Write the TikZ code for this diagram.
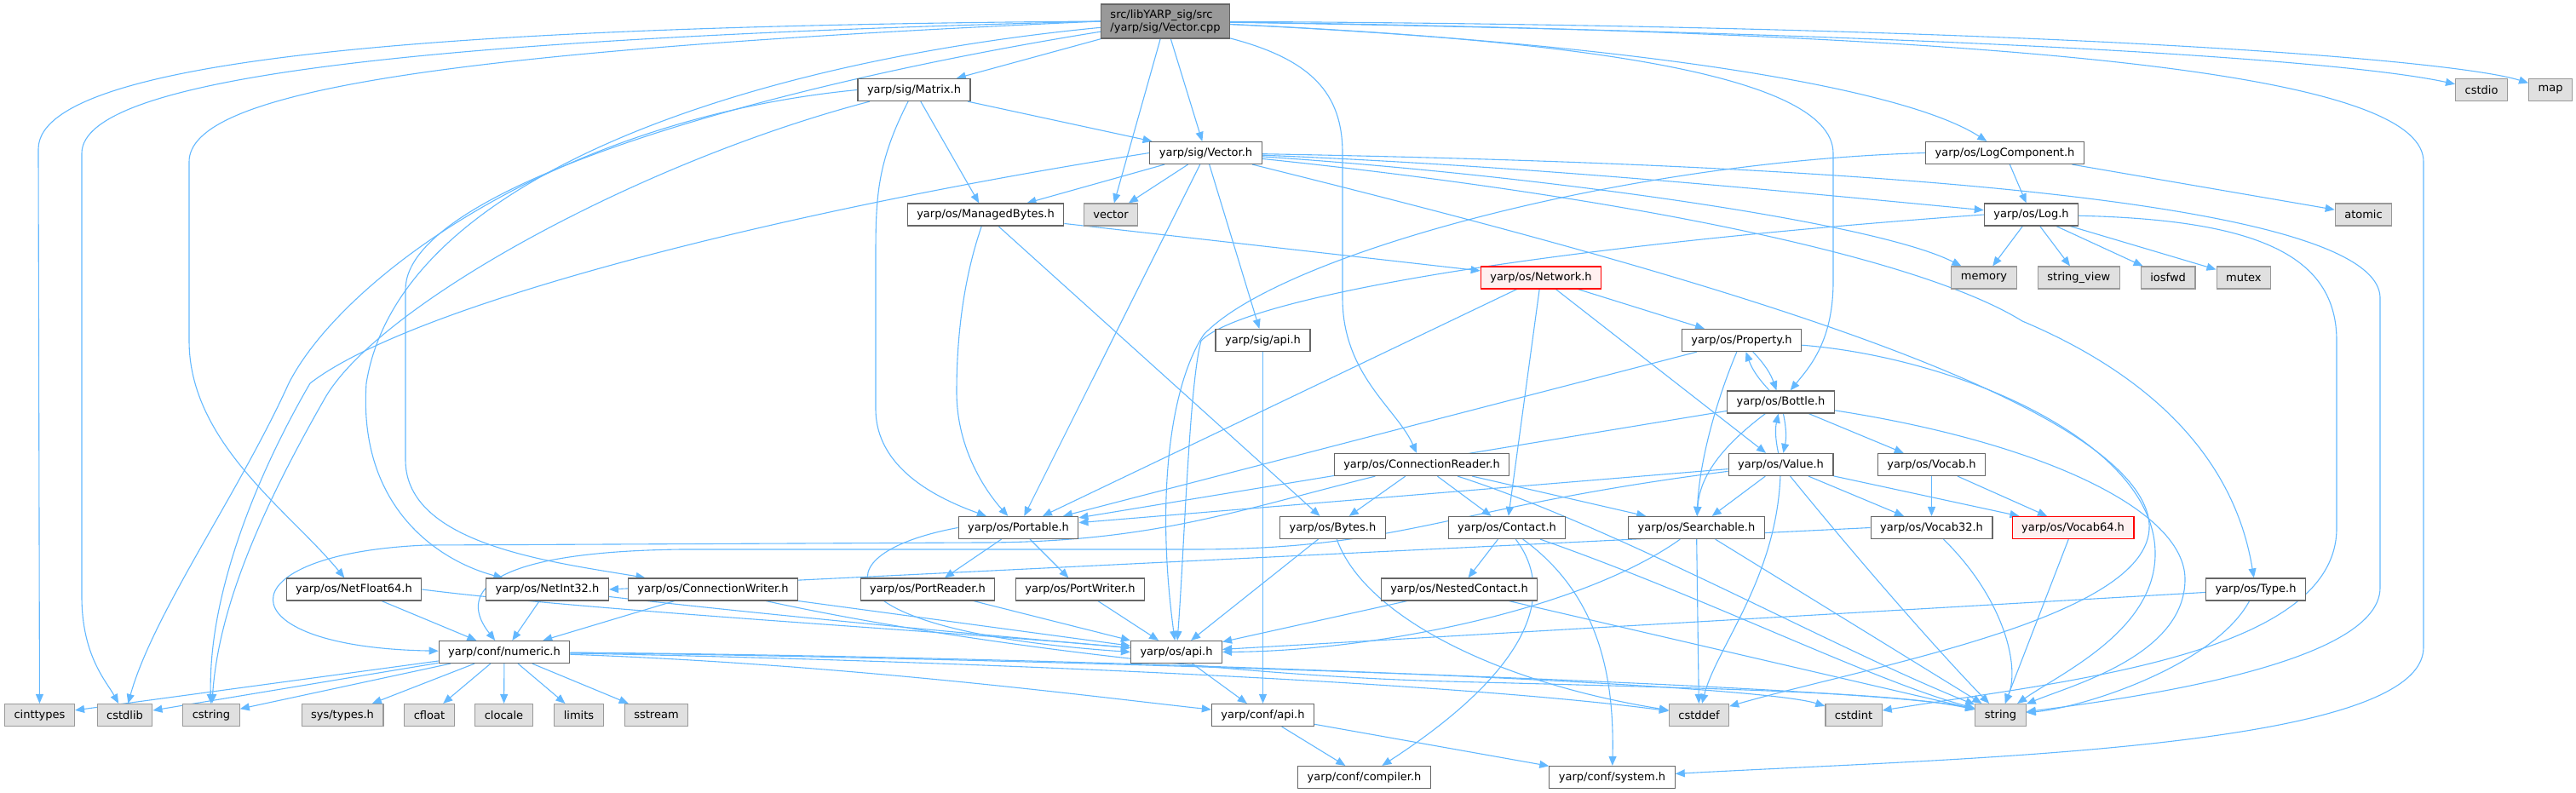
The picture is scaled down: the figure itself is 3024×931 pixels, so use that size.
\documentclass[tikz,border=0pt]{standalone}
\usepackage{fontspec}
\setmainfont{DejaVu Sans}
\usetikzlibrary{positioning, arrows.meta}

\definecolor{edgeblue}{HTML}{63B8FF}
\definecolor{nodeborder}{HTML}{666666}
\definecolor{sysborder}{HTML}{999999}
\definecolor{sysfill}{HTML}{E0E0E0}
\definecolor{rootfill}{HTML}{999999}
\definecolor{truncfill}{HTML}{FFF0F0}

\pgfdeclarelayer{background}
\pgfsetlayers{background,main}

\tikzset{
    file/.style={draw=nodeborder, fill=white, line width=0.6pt, rectangle, inner xsep=5.5pt, inner ysep=0pt, minimum height=13pt, font=\fontsize{6.5}{7.5}\selectfont},
    sysfile/.style={file, draw=sysborder, fill=sysfill},
    rootfile/.style={file, fill=rootfill, align=left, minimum height=20pt},
    truncfile/.style={file, draw=red, fill=truncfill},
    dep/.style={draw=edgeblue, line width=0.55pt, -{Triangle[length=5.5pt, width=4.5pt]}}
}

\begin{document}
\begin{tikzpicture}[x=0.5pt, y=-0.5pt]
    \useasboundingbox (0,0) rectangle (3024,931);

    % rows from top to bottom
    \node (root) [rootfile] at (1368, 25) {src/libYARP\_sig/src\\/yarp/sig/Vector.cpp};

    \node (matrix) [file] at (1073, 105.5) {yarp/sig/Matrix.h};
    \node (cstdio) [sysfile] at (2913, 105.5) {cstdio};
    \node (map) [sysfile, right=12pt of cstdio] {map};

    \node (vectorh) [file] at (1415.5, 179.5) {yarp/sig/Vector.h};
    \node (logcomp) [file] at (2353.5, 179.5) {yarp/os/LogComponent.h};

    \node (managed) [file] at (1157, 252) {yarp/os/ManagedBytes.h};
    \node (vector) [sysfile] at (1304, 252) {vector};
    \node (log) [file] at (2384.5, 252) {yarp/os/Log.h};
    \node (atomic) [sysfile] at (2774.5, 252) {atomic};

    \node (network) [truncfile] at (1809, 326) {yarp/os/Network.h};
    \node (memory) [sysfile] at (2329, 326) {memory};
    \node (strview) [sysfile, right=12pt of memory] {string\_view};
    \node (iosfwd) [sysfile, right=12pt of strview] {iosfwd};
    \node (mutex) [sysfile, right=12pt of iosfwd] {mutex};

    \node (sigapi) [file] at (1482.5, 399.5) {yarp/sig/api.h};
    \node (property) [file] at (2044.5, 399.5) {yarp/os/Property.h};

    \node (bottle) [file] at (2090.5, 472) {yarp/os/Bottle.h};

    \node (connreader) [file] at (1669, 545.5) {yarp/os/ConnectionReader.h};
    \node (value) [file] at (2090.5, 545.5) {yarp/os/Value.h};
    \node (vocab) [file] at (2267.5, 545.5) {yarp/os/Vocab.h};

    \node (portable) [file] at (1195.5, 619.5) {yarp/os/Portable.h};
    \node (bytes) [file] at (1564.5, 619.5) {yarp/os/Bytes.h};
    \node (contact) [file] at (1769, 619.5) {yarp/os/Contact.h};
    \node (searchable) [file] at (1991.5, 619.5) {yarp/os/Searchable.h};
    \node (vocab32) [file] at (2267.5, 619.5) {yarp/os/Vocab32.h};
    \node (vocab64) [truncfile] at (2433.5, 619.5) {yarp/os/Vocab64.h};

    \node (netfloat) [file] at (415.5, 692) {yarp/os/NetFloat64.h};
    \node (netint) [file] at (642.5, 692) {yarp/os/NetInt32.h};
    \node (connwriter) [file] at (837, 692) {yarp/os/ConnectionWriter.h};
    \node (portreader) [file] at (1089, 692) {yarp/os/PortReader.h};
    \node (portwriter) [file] at (1268, 692) {yarp/os/PortWriter.h};
    \node (nested) [file] at (1713, 692) {yarp/os/NestedContact.h};
    \node (type) [file] at (2648, 692) {yarp/os/Type.h};

    \node (numeric) [file] at (592, 765.5) {yarp/conf/numeric.h};
    \node (osapi) [file] at (1381, 765.5) {yarp/os/api.h};

    \node (cinttypes) [sysfile] at (46.5, 839.5) {cinttypes};
    \node (cstdlib) [sysfile] at (146.5, 839.5) {cstdlib};
    \node (cstring) [sysfile] at (248, 839.5) {cstring};
    \node (systypes) [sysfile] at (402, 839.5) {sys/types.h};
    \node (cfloat) [sysfile] at (504, 839.5) {cfloat};
    \node (clocale) [sysfile] at (591.5, 839.5) {clocale};
    \node (limits) [sysfile] at (679.5, 839.5) {limits};
    \node (sstream) [sysfile] at (770.5, 839.5) {sstream};
    \node (confapi) [file] at (1482.5, 839.5) {yarp/conf/api.h};
    \node (cstddef) [sysfile] at (1994.5, 839.5) {cstddef};
    \node (cstdint) [sysfile] at (2176, 839.5) {cstdint};
    \node (string) [sysfile] at (2348.5, 839.5) {string};

    \node (compiler) [file] at (1601.5, 912.5) {yarp/conf/compiler.h};
    \node (system) [file] at (1892.5, 912.5) {yarp/conf/system.h};

    \begin{pgfonlayer}{background}
    % Vector.cpp
    \draw [dep] (root) -- (matrix);
    \draw [dep] (root) -- (vectorh);
    \draw [dep] (root) -- (vector);
    \draw [dep] (root.west) .. controls (600,30) and (45,60) .. (45,175) -- (cinttypes);
    \draw [dep] (root.west) .. controls (500,45) and (96,90) .. (96,180) -- (96,700) .. controls (96,770) and (125,800) .. (cstdlib);
    \draw [dep] (root.west) .. controls (500,60) and (222,110) .. (222,190) -- (222,400) .. controls (222,520) and (340,600) .. (netfloat);
    \draw [dep] (root) .. controls (900,70) and (470,200) .. (430,450) .. controls (420,600) and (520,660) .. (netint);
    \draw [dep] (root) .. controls (900,100) and (476,220) .. (476,340) -- (476,540) .. controls (476,640) and (650,660) .. (connwriter);
    \draw [dep] (root) .. controls (1540,70) and (1576,110) .. (1576,180) -- (1576,350) .. controls (1576,440) and (1640,480) .. (connreader);
    \draw [dep] (root) .. controls (1800,45) and (2152,80) .. (2152,180) -- (2152,330) .. controls (2152,400) and (2125,430) .. (bottle);
    \draw [dep] (root) .. controls (1900,50) and (2230,100) .. (logcomp);
    \draw [dep] (root) .. controls (2300,40) and (2750,70) .. (cstdio);
    \draw [dep] (root) .. controls (2400,30) and (2880,70) .. (map);
    \draw [dep] (root) .. controls (2500,40) and (2845,100) .. (2845,190) -- (2845,760) .. controls (2845,880) and (2300,890) .. (system);

    % Matrix.h
    \draw [dep] (matrix) -- (vectorh);
    \draw [dep] (matrix) -- (managed);
    \draw [dep] (matrix) .. controls (1030,190) and (1028,230) .. (1028,300) -- (1028,480) .. controls (1028,550) and (1100,585) .. (portable);
    \draw [dep] (matrix.west) .. controls (650,140) and (400,330) .. (339,450) .. controls (280,580) and (180,720) .. (cstdlib);
    \draw [dep] (matrix) .. controls (750,190) and (440,360) .. (380,470) .. controls (300,610) and (256,720) .. (cstring);

    % Vector.h
    \draw [dep] (vectorh) -- (managed);
    \draw [dep] (vectorh) -- (vector);
    \draw [dep] (vectorh) -- (portable);
    \draw [dep] (vectorh) -- (sigapi);
    \draw [dep] (vectorh.west) .. controls (900,250) and (480,360) .. (364,450) .. controls (300,560) and (244,700) .. (cstring);
    \draw [dep] (vectorh) .. controls (1800,195) and (2100,225) .. (log);
    \draw [dep] (vectorh) .. controls (1800,205) and (2200,260) .. (memory);
    \draw [dep] (vectorh) .. controls (1900,230) and (2250,300) .. (2374,377) .. controls (2500,430) and (2620,520) .. (type);
    \draw [dep] (vectorh) .. controls (2000,190) and (2794,220) .. (2794,350) -- (2794,690) .. controls (2794,780) and (2500,820) .. (string);
    \draw [dep] (vectorh) .. controls (1900,300) and (2470,450) .. (2520,600) .. controls (2560,720) and (2200,780) .. (cstddef);

    % ManagedBytes.h, Network.h, sig/api.h
    \draw [dep] (managed) -- (network);
    \draw [dep] (managed) .. controls (1130,330) and (1123,400) .. (1123,460) .. controls (1123,530) and (1160,580) .. (portable);
    \draw [dep] (managed) -- (bytes);
    \draw [dep] (network) -- (property);
    \draw [dep] (network) -- (contact);
    \draw [dep] (network) -- (value);
    \draw [dep] (network) -- (portable);
    \draw [dep] (sigapi) -- (confapi);

    % Property.h, Bottle.h, Value.h
    \draw [dep] (property) to[bend left=12] (bottle);
    \draw [dep] (property) .. controls (2015,470) and (1995,540) .. (searchable);
    \draw [dep] (property) -- (portable);
    \draw [dep] (property) .. controls (2300,420) and (2530,520) .. (2530,650) .. controls (2530,740) and (2420,790) .. (string);
    \draw [dep] (bottle) to[bend left=12] (property);
    \draw [dep] (bottle) to[bend left=12] (value);
    \draw [dep] (bottle) .. controls (2020,525) and (1995,560) .. (searchable);
    \draw [dep] (bottle) -- (vocab);
    \draw [dep] (bottle) -- (portable);
    \draw [dep] (bottle) .. controls (2400,520) and (2565,600) .. (2565,680) .. controls (2565,770) and (2430,805) .. (string);
    \draw [dep] (value) to[bend left=12] (bottle);
    \draw [dep] (value) -- (searchable);
    \draw [dep] (value) -- (vocab32);
    \draw [dep] (value) -- (vocab64);
    \draw [dep] (value) -- (portable);
    \draw [dep] (value) .. controls (1700,595) and (1650,645) .. (1400,645) -- (800,645) .. controls (560,648) and (540,700) .. (numeric);
    \draw [dep] (value) .. controls (2085,680) and (2015,760) .. (cstddef);
    \draw [dep] (value) .. controls (2200,680) and (2290,780) .. (string);

    % ConnectionReader.h, Vocab.h
    \draw [dep] (connreader) -- (bytes);
    \draw [dep] (connreader) -- (contact);
    \draw [dep] (connreader) -- (searchable);
    \draw [dep] (connreader) .. controls (1450,600) and (1350,637) .. (1150,637) -- (500,640) .. controls (260,650) and (260,760) .. (numeric);
    \draw [dep] (connreader) .. controls (1900,620) and (2150,760) .. (string);
    \draw [dep] (vocab) -- (vocab32);
    \draw [dep] (vocab) -- (vocab64);

    % row of Portable.h
    \draw [dep] (portable) -- (portreader);
    \draw [dep] (portable) -- (portwriter);
    \draw [dep] (portable.west) .. controls (960,650) and (960,740) .. (osapi.west);
    \draw [dep] (bytes) -- (osapi);
    \draw [dep] (bytes) .. controls (1600,720) and (1750,800) .. (cstddef);
    \draw [dep] (contact) -- (nested);
    \draw [dep] (contact) .. controls (1830,700) and (1790,790) .. (compiler);
    \draw [dep] (contact) .. controls (1880,700) and (1895,800) .. (system);
    \draw [dep] (contact) .. controls (2000,700) and (2200,800) .. (string);
    \draw [dep] (searchable) .. controls (1850,720) and (1600,765) .. (osapi);
    \draw [dep] (searchable) -- (cstddef);
    \draw [dep] (searchable) -- (string);
    \draw [dep] (vocab32.west) -- (netint.east);
    \draw [dep] (vocab32) .. controls (2350,700) and (2372,780) .. (string);
    \draw [dep] (vocab64) -- (string);

    % row of ConnectionWriter.h
    \draw [dep] (netfloat) -- (numeric);
    \draw [dep] (netfloat.east) .. controls (700,718) and (1100,740) .. (osapi);
    \draw [dep] (netint) -- (numeric);
    \draw [dep] (netint) .. controls (900,722) and (1150,745) .. (osapi);
    \draw [dep] (connwriter) -- (numeric);
    \draw [dep] (connwriter) -- (osapi);
    \draw [dep] (connwriter) .. controls (1080,745) and (1400,792) .. (1700,800) .. controls (2000,808) and (2220,812) .. (string);
    \draw [dep] (portreader) -- (osapi);
    \draw [dep] (portwriter) -- (osapi);
    \draw [dep] (nested) -- (osapi);
    \draw [dep] (nested) -- (string);
    \draw [dep] (type) -- (osapi);
    \draw [dep] (type) .. controls (2600,780) and (2450,830) .. (string);

    % LogComponent.h, Log.h
    \draw [dep] (logcomp) -- (log);
    \draw [dep] (logcomp) -- (atomic);
    \draw [dep] (logcomp.west) .. controls (1900,190) and (1500,300) .. (1413,393) .. controls (1375,450) and (1356,580) .. (osapi);
    \draw [dep] (log) -- (memory);
    \draw [dep] (log) -- (strview);
    \draw [dep] (log) -- (iosfwd);
    \draw [dep] (log) -- (mutex);
    \draw [dep] (log.west) .. controls (1800,290) and (1460,350) .. (1410,400) .. controls (1396,450) and (1390,650) .. (osapi);
    \draw [dep] (log) .. controls (2650,258) and (2743,300) .. (2743,400) -- (2743,620) .. controls (2743,770) and (2420,800) .. (cstdint);

    % numeric.h and the conf headers
    \foreach \leaf in {cinttypes, cstdlib, cstring, systypes, cfloat, clocale, limits, sstream}
        \draw [dep] (numeric) -- (\leaf);
    \draw [dep] (numeric) .. controls (1000,780) and (1300,820) .. (confapi);
    \draw [dep] (numeric) .. controls (1100,775) and (1700,800) .. (cstddef);
    \draw [dep] (numeric) .. controls (1200,770) and (2050,800) .. (cstdint);
    \draw [dep] (numeric) .. controls (1200,772) and (2200,805) .. (string);
    \draw [dep] (osapi) -- (confapi);
    \draw [dep] (confapi) -- (compiler);
    \draw [dep] (confapi) -- (system);
    \end{pgfonlayer}
\end{tikzpicture}
\end{document}
